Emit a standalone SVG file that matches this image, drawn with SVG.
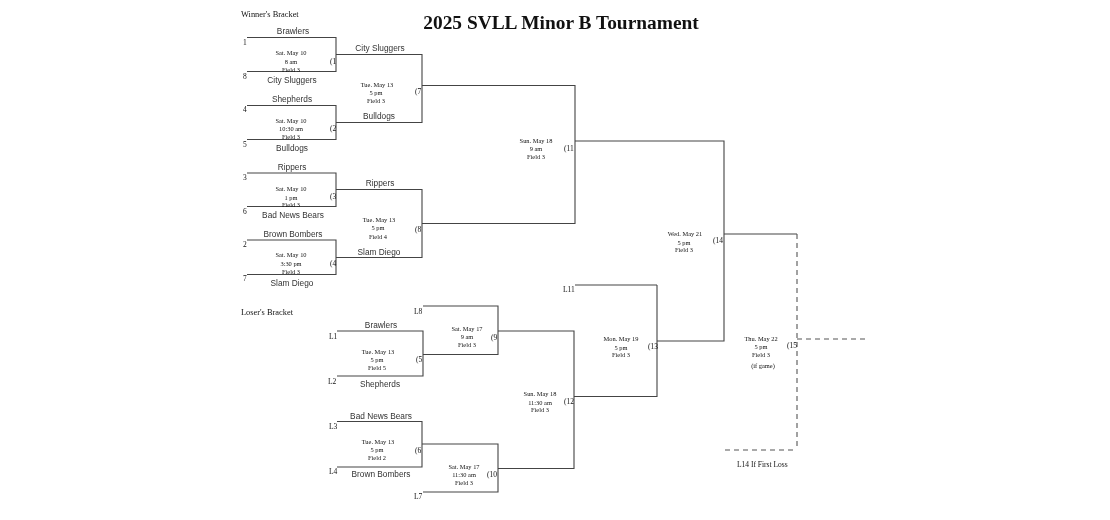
<svg xmlns="http://www.w3.org/2000/svg" width="1110" height="520" viewBox="0 0 1110 520">
<defs><filter id="soft" filterUnits="userSpaceOnUse" x="0" y="0" width="1110" height="520" color-interpolation-filters="sRGB"><feGaussianBlur stdDeviation="0.25"/></filter></defs>
<style>
.l{fill:none;stroke:#444;stroke-width:1.1}
.d{fill:none;stroke:#555;stroke-width:1.1;stroke-dasharray:5 4}
text{fill:#111}
.t{font:8.3px "Liberation Sans",Arial,sans-serif;text-anchor:middle;fill:#333}
.s{font:6.4px "Liberation Serif","Times New Roman",serif;text-anchor:middle}
.n{font:7.5px "Liberation Serif","Times New Roman",serif}
.h{font:8.4px "Liberation Serif","Times New Roman",serif}
</style>
<rect width="1110" height="520" fill="#fff"/>
<g id="connectors">
<path class="l" d="M247 37.5H336V71.5H247M336 54.5H422V122.5H336M247 105.5H336V139.5H247"/>
<path class="l" d="M247 173H336V206.5H247M336 189.5H422V257.5H336M247 240H336V274.5H247"/>
<path class="l" d="M422 85.5H575V223.5H422M575 141H724V341H657M657 285H575M657 285V396.5H574"/>
<path class="l" d="M337 331H423V376H337M423 354.5H498V306H423M498 331H574V468.5H498"/>
<path class="l" d="M337 421.5H422V467H337M422 444H498V492H423"/>
<path class="l" d="M724 234H797"/>
<path class="d" d="M797 234V450M725 450H797M797 339H866"/>
</g>
<g filter="url(#soft)">
<g id="title"><text x="561" y="29" text-anchor="middle" style="font:bold 19.4px 'Liberation Serif','Times New Roman',serif" fill="#000">2025 SVLL Minor B Tournament</text></g>
<g id="headers"><text class="h" x="241" y="17">Winner's Bracket</text><text class="h" x="241" y="315">Loser's Bracket</text></g>
<g id="g1"><text class="n" x="243" y="45">1</text><text class="n" x="243" y="79">8</text><text class="t" x="293" y="34">Brawlers</text><text class="t" x="292" y="83">City Sluggers</text><text class="s" x="291" y="55">Sat. May 10</text><text class="s" x="291" y="64">8 am</text><text class="s" x="291" y="72">Field 3</text><text class="n" x="330" y="64">(1</text></g>
<g id="g2"><text class="n" x="243" y="112">4</text><text class="n" x="243" y="147">5</text><text class="t" x="292" y="102">Shepherds</text><text class="t" x="292" y="151">Bulldogs</text><text class="s" x="291" y="123">Sat. May 10</text><text class="s" x="291" y="131">10:30 am</text><text class="s" x="291" y="139">Field 3</text><text class="n" x="330" y="131">(2</text></g>
<g id="g3"><text class="n" x="243" y="180">3</text><text class="n" x="243" y="214">6</text><text class="t" x="292" y="170">Rippers</text><text class="t" x="293" y="218">Bad News Bears</text><text class="s" x="291" y="191">Sat. May 10</text><text class="s" x="291" y="200">1 pm</text><text class="s" x="291" y="207">Field 3</text><text class="n" x="330" y="199">(3</text></g>
<g id="g4"><text class="n" x="243" y="247">2</text><text class="n" x="243" y="281">7</text><text class="t" x="293" y="237">Brown Bombers</text><text class="t" x="292" y="286">Slam Diego</text><text class="s" x="291" y="257">Sat. May 10</text><text class="s" x="291" y="266">3:30 pm</text><text class="s" x="291" y="274">Field 3</text><text class="n" x="330" y="266">(4</text></g>
<g id="g7"><text class="t" x="380" y="51">City Sluggers</text><text class="t" x="379" y="119">Bulldogs</text><text class="s" x="377" y="87">Tue. May 13</text><text class="s" x="376" y="95">5 pm</text><text class="s" x="376" y="103">Field 3</text><text class="n" x="415" y="94">(7</text></g>
<g id="g8"><text class="t" x="380" y="186">Rippers</text><text class="t" x="379" y="255">Slam Diego</text><text class="s" x="379" y="222">Tue. May 13</text><text class="s" x="378" y="230">5 pm</text><text class="s" x="378" y="239">Field 4</text><text class="n" x="415" y="232">(8</text></g>
<g id="g11"><text class="s" x="536" y="143">Sun. May 18</text><text class="s" x="536" y="151">9 am</text><text class="s" x="536" y="159">Field 3</text><text class="n" x="564" y="151">(11</text></g>
<g id="g14"><text class="s" x="685" y="236">Wed. May 21</text><text class="s" x="684" y="245">5 pm</text><text class="s" x="684" y="252">Field 3</text><text class="n" x="713" y="243">(14</text></g>
<g id="g5"><text class="n" x="329" y="339">L1</text><text class="n" x="328" y="384">L2</text><text class="t" x="381" y="328">Brawlers</text><text class="t" x="380" y="387">Shepherds</text><text class="s" x="378" y="354">Tue. May 13</text><text class="s" x="377" y="362">5 pm</text><text class="s" x="377" y="370">Field 5</text><text class="n" x="416" y="362">(5</text></g>
<g id="g6"><text class="n" x="329" y="429">L3</text><text class="n" x="329" y="474">L4</text><text class="t" x="381" y="419">Bad News Bears</text><text class="t" x="381" y="477">Brown Bombers</text><text class="s" x="378" y="444">Tue. May 13</text><text class="s" x="377" y="452">5 pm</text><text class="s" x="377" y="460">Field 2</text><text class="n" x="415" y="453">(6</text></g>
<g id="g9"><text class="n" x="414" y="314">L8</text><text class="s" x="467" y="331">Sat. May 17</text><text class="s" x="467" y="339">9 am</text><text class="s" x="467" y="347">Field 3</text><text class="n" x="491" y="340">(9</text></g>
<g id="g10"><text class="n" x="414" y="499">L7</text><text class="s" x="464" y="469">Sat. May 17</text><text class="s" x="464" y="477">11:30 am</text><text class="s" x="464" y="485">Field 3</text><text class="n" x="487" y="477">(10</text></g>
<g id="g12"><text class="s" x="540" y="396">Sun. May 18</text><text class="s" x="540" y="405">11:30 am</text><text class="s" x="540" y="412">Field 3</text><text class="n" x="564" y="404">(12</text></g>
<g id="g13"><text class="n" x="563" y="292">L11</text><text class="s" x="621" y="341">Mon. May 19</text><text class="s" x="621" y="350">5 pm</text><text class="s" x="621" y="357">Field 3</text><text class="n" x="648" y="349">(13</text></g>
<g id="g15"><text class="s" x="761" y="341">Thu. May 22</text><text class="s" x="761" y="349">5 pm</text><text class="s" x="761" y="357">Field 3</text><text class="s" x="763" y="368">(if game)</text><text class="n" x="787" y="348">(15</text></g>
<g id="l14"><text class="n" x="737" y="467">L14 If First Loss</text></g>
</g>
</svg>
